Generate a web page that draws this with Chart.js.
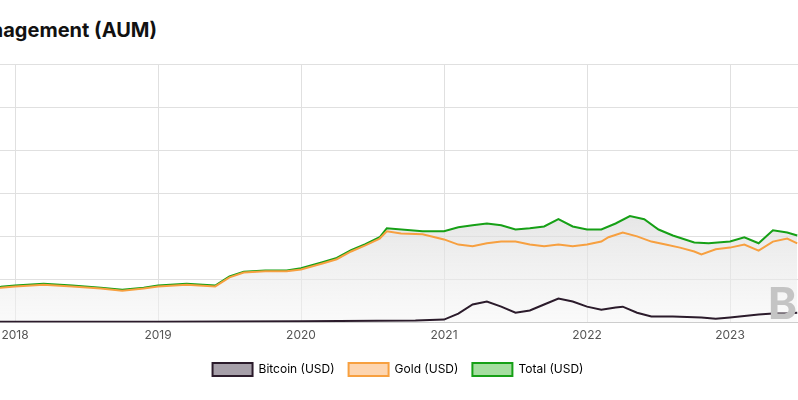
<!DOCTYPE html>
<html><head><meta charset="utf-8">
<script src="https://cdn.jsdelivr.net/npm/chart.js@4/dist/chart.umd.min.js"></script>
<style>
html,body{margin:0;padding:0;background:#fff;overflow:hidden;width:798px;height:400px;font-family:Inter,sans-serif}
#t{position:absolute;right:calc(100% - 157px);top:18px;white-space:nowrap;font:bold 20px Inter,sans-serif;color:#111}
#wm{position:absolute;left:768px;top:276px;font:bold 44px Inter,sans-serif;color:#c4c4c4}
#wrap{position:absolute;left:-200px;top:0;width:1196px;height:400px}
</style></head><body>
<div id="t">Bitcoin &amp; Gold Assets Under Management (AUM)</div>
<div id="wrap"><canvas id="c"></canvas></div>
<div id="wm">B</div>
<script>
const yearTicks=[2018,2019,2020,2021,2022,2023];
const goldX=[2017.0,2017.5,2017.9,2018.0,2018.2,2018.4,2018.6,2018.75,2018.9,2019.0,2019.2,2019.4,2019.5,2019.6,2019.75,2019.9,2020.0,2020.15,2020.25,2020.35,2020.45,2020.55,2020.6,2020.7,2020.85,2021.0,2021.1,2021.2,2021.3,2021.4,2021.5,2021.6,2021.7,2021.8,2021.9,2022.0,2022.1,2022.15,2022.25,2022.35,2022.45,2022.55,2022.65,2022.75,2022.8,2022.9,2023.0,2023.1,2023.2,2023.3,2023.4,2023.47];
const goldY=[0.7,0.76,0.81,0.84,0.88,0.84,0.79,0.74,0.79,0.84,0.88,0.84,1.05,1.16,1.19,1.19,1.23,1.37,1.47,1.65,1.79,1.95,2.12,2.07,2.05,1.93,1.81,1.77,1.84,1.88,1.88,1.81,1.77,1.81,1.77,1.81,1.88,1.98,2.09,2.0,1.88,1.81,1.74,1.65,1.58,1.7,1.74,1.81,1.67,1.88,1.95,1.84];
const btcX=[2017.0,2017.9,2019.0,2020.0,2020.8,2021.0,2021.1,2021.2,2021.3,2021.4,2021.5,2021.6,2021.7,2021.8,2021.9,2022.0,2022.1,2022.2,2022.25,2022.35,2022.45,2022.6,2022.8,2022.9,2023.0,2023.2,2023.3,2023.4,2023.47];
const btcY=[0.01,0.02,0.02,0.03,0.05,0.07,0.21,0.42,0.49,0.37,0.23,0.28,0.42,0.56,0.49,0.37,0.3,0.35,0.37,0.23,0.14,0.14,0.12,0.09,0.12,0.19,0.21,0.21,0.23];
const totalX=[2017.0,2017.5,2017.9,2018.0,2018.2,2018.4,2018.6,2018.75,2018.9,2019.0,2019.2,2019.4,2019.5,2019.6,2019.75,2019.9,2020.0,2020.15,2020.25,2020.35,2020.45,2020.55,2020.6,2020.85,2021.0,2021.1,2021.2,2021.3,2021.4,2021.5,2021.6,2021.7,2021.8,2021.9,2022.0,2022.1,2022.2,2022.3,2022.4,2022.5,2022.6,2022.75,2022.85,2023.0,2023.1,2023.2,2023.3,2023.4,2023.47];
const totalY=[0.71,0.78,0.83,0.86,0.9,0.86,0.81,0.76,0.81,0.86,0.9,0.86,1.07,1.18,1.21,1.21,1.26,1.4,1.5,1.68,1.82,1.98,2.19,2.12,2.12,2.21,2.26,2.3,2.26,2.16,2.19,2.23,2.4,2.23,2.16,2.16,2.3,2.47,2.4,2.16,2.02,1.86,1.84,1.88,1.98,1.84,2.14,2.09,2.02];
const pts=(xs,ys)=>xs.map((x,i)=>({x,y:ys[i]}));
const ctx=document.getElementById('c');
new Chart(ctx,{type:'line',
data:{datasets:[
{label:'Bitcoin (USD)',data:pts(btcX,btcY),borderColor:'#2b1b2b',backgroundColor:'#a69fa9',borderWidth:2,pointRadius:0,tension:0,order:1},
{label:'Gold (USD)',data:pts(goldX,goldY),borderColor:'#f7a040',backgroundColor:'#fdd5b0',borderWidth:2,pointRadius:0,tension:0,order:2},
{label:'Total (USD)',data:pts(totalX,totalY),borderColor:'#16a016',backgroundColor:'#a5dea0',borderWidth:2,pointRadius:0,tension:0,order:3,
 fill:{target:'origin',above:(c)=>{const a=c.chart.chartArea;if(!a)return '#eee';const g=c.chart.ctx.createLinearGradient(0,a.top+100,0,a.bottom);g.addColorStop(0,'rgba(205,205,205,0.75)');g.addColorStop(1,'rgba(245,245,245,0.5)');return g;}}}
]},
options:{animation:false,responsive:true,maintainAspectRatio:false,
layout:{padding:{top:64,right:0,bottom:14,left:0}},
plugins:{title:{display:false},tooltip:{enabled:false},
legend:{position:'bottom',labels:{font:{family:'Inter',size:12},color:'#333',boxWidth:40,boxHeight:13,padding:14,
 generateLabels:(ch)=>ch.data.datasets.map((d,i)=>({text:d.label,fillStyle:d.backgroundColor,strokeStyle:d.borderColor,lineWidth:2,datasetIndex:i,hidden:false}))}}},
scales:{
x:{type:'linear',min:2017,max:2024.86,afterBuildTicks:(s)=>{s.ticks=yearTicks.map(v=>({value:v}));},
 ticks:{callback:(v)=>String(v),font:{family:'Inter',size:12},color:'#555',padding:6,maxRotation:0},
 grid:{color:'#e0e0e0',drawTicks:false},border:{color:'#ccc'}},
y:{min:0,max:6,afterFit:(s)=>{s.width=72;},ticks:{stepSize:1,font:{family:'Inter',size:12},color:'#555'},grid:{color:'#e0e0e0',drawTicks:false},border:{display:false}}
}}});
</script></body></html>
